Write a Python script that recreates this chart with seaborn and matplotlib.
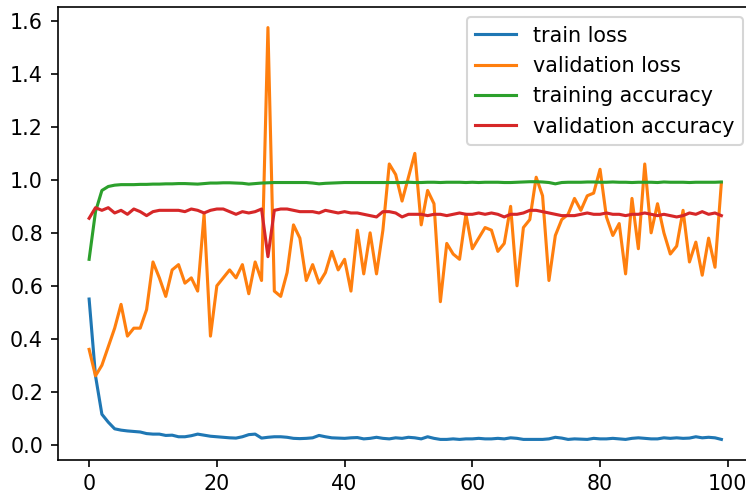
import numpy as np
import matplotlib
matplotlib.use("Agg")
import matplotlib.pyplot as plt
import seaborn as sns

epochs = np.arange(100)

train_loss = [0.55, 0.26, 0.115, 0.085, 0.06, 0.055, 0.052, 0.05, 0.048, 0.042,
              0.04, 0.04, 0.035, 0.036, 0.03, 0.03, 0.034, 0.04, 0.036, 0.032,
              0.03, 0.028, 0.026, 0.025, 0.03, 0.038, 0.04, 0.025, 0.028, 0.03,
              0.03, 0.028, 0.024, 0.023, 0.024, 0.026, 0.035, 0.03, 0.026, 0.025,
              0.024, 0.026, 0.027, 0.022, 0.024, 0.028, 0.024, 0.022, 0.026, 0.024,
              0.028, 0.026, 0.022, 0.03, 0.024, 0.02, 0.02, 0.022, 0.02, 0.022,
              0.022, 0.024, 0.022, 0.022, 0.024, 0.022, 0.026, 0.024, 0.02, 0.02,
              0.02, 0.02, 0.022, 0.028, 0.025, 0.02, 0.022, 0.021, 0.02, 0.024,
              0.022, 0.022, 0.024, 0.022, 0.02, 0.024, 0.026, 0.024, 0.022, 0.022,
              0.026, 0.024, 0.026, 0.024, 0.025, 0.03, 0.026, 0.028, 0.026, 0.02]

val_loss = [0.36, 0.26, 0.30, 0.37, 0.44, 0.53, 0.41, 0.44, 0.44, 0.51,
            0.69, 0.63, 0.56, 0.66, 0.68, 0.61, 0.63, 0.58, 0.87, 0.41,
            0.60, 0.63, 0.66, 0.63, 0.68, 0.57, 0.69, 0.62, 1.575, 0.58,
            0.56, 0.65, 0.83, 0.78, 0.62, 0.68, 0.61, 0.65, 0.73, 0.66,
            0.70, 0.58, 0.81, 0.645, 0.80, 0.645, 0.81, 1.06, 1.02, 0.92,
            1.01, 1.10, 0.83, 0.96, 0.91, 0.54, 0.76, 0.72, 0.70, 0.87,
            0.74, 0.78, 0.82, 0.81, 0.73, 0.76, 0.90, 0.60, 0.82, 0.85,
            1.01, 0.94, 0.62, 0.79, 0.85, 0.87, 0.93, 0.885, 0.94, 0.95,
            1.04, 0.86, 0.79, 0.835, 0.645, 0.93, 0.74, 1.06, 0.80, 0.91,
            0.80, 0.72, 0.75, 0.885, 0.69, 0.765, 0.64, 0.78, 0.67, 0.99]

train_acc = [0.70, 0.88, 0.96, 0.975, 0.98, 0.982, 0.982, 0.982, 0.983, 0.983,
             0.984, 0.984, 0.985, 0.985, 0.986, 0.986, 0.985, 0.984, 0.986, 0.988,
             0.988, 0.989, 0.989, 0.988, 0.987, 0.984, 0.986, 0.988, 0.989, 0.99,
             0.99, 0.99, 0.99, 0.99, 0.99, 0.988, 0.985, 0.987, 0.988, 0.989,
             0.99, 0.99, 0.99, 0.99, 0.99, 0.99, 0.99, 0.99, 0.99, 0.99,
             0.991, 0.99, 0.99, 0.991, 0.991, 0.99, 0.991, 0.991, 0.991, 0.99,
             0.991, 0.99, 0.991, 0.991, 0.991, 0.99, 0.99, 0.991, 0.992, 0.993,
             0.993, 0.992, 0.99, 0.985, 0.99, 0.991, 0.991, 0.991, 0.992, 0.992,
             0.991, 0.991, 0.992, 0.991, 0.991, 0.99, 0.991, 0.991, 0.991, 0.99,
             0.992, 0.991, 0.991, 0.991, 0.99, 0.991, 0.991, 0.991, 0.991, 0.992]

val_acc = [0.855, 0.895, 0.885, 0.895, 0.875, 0.885, 0.87, 0.89, 0.88, 0.865,
           0.88, 0.885, 0.885, 0.885, 0.885, 0.88, 0.89, 0.885, 0.875, 0.885,
           0.89, 0.89, 0.88, 0.87, 0.88, 0.875, 0.88, 0.89, 0.71, 0.885,
           0.89, 0.89, 0.885, 0.88, 0.88, 0.88, 0.875, 0.885, 0.88, 0.875,
           0.88, 0.875, 0.875, 0.87, 0.865, 0.86, 0.88, 0.88, 0.875, 0.86,
           0.87, 0.87, 0.87, 0.865, 0.87, 0.87, 0.865, 0.87, 0.875, 0.87,
           0.87, 0.875, 0.87, 0.875, 0.87, 0.86, 0.87, 0.87, 0.875, 0.885,
           0.885, 0.88, 0.875, 0.87, 0.865, 0.865, 0.865, 0.87, 0.875, 0.87,
           0.87, 0.875, 0.87, 0.87, 0.865, 0.87, 0.87, 0.875, 0.87, 0.865,
           0.87, 0.865, 0.86, 0.865, 0.875, 0.87, 0.88, 0.87, 0.875, 0.865]

labels = ["train loss", "validation loss", "training accuracy", "validation accuracy"]
colors = ["#1f77b4", "#ff7f0e", "#2ca02c", "#d62728"]
series = [train_loss, val_loss, train_acc, val_acc]

DPI = 148.6
fig = plt.figure(figsize=(746 / DPI, 495 / DPI), dpi=DPI)
ax = fig.add_axes([57.5 / 746, 35 / 495, (753 - 57.5) / 746, (460 - 7) / 495])

for vals, lab, col in zip(series, labels, colors):
    sns.lineplot(x=epochs, y=np.array(vals), label=lab, color=col, ax=ax, linewidth=1.5)

ax.set_yticks([0.0, 0.2, 0.4, 0.6, 0.8, 1.0, 1.2, 1.4, 1.6])
ax.set_xticks([0, 20, 40, 60, 80, 100])
ax.legend(loc="upper right")

fig.savefig("out.png", dpi=DPI)
